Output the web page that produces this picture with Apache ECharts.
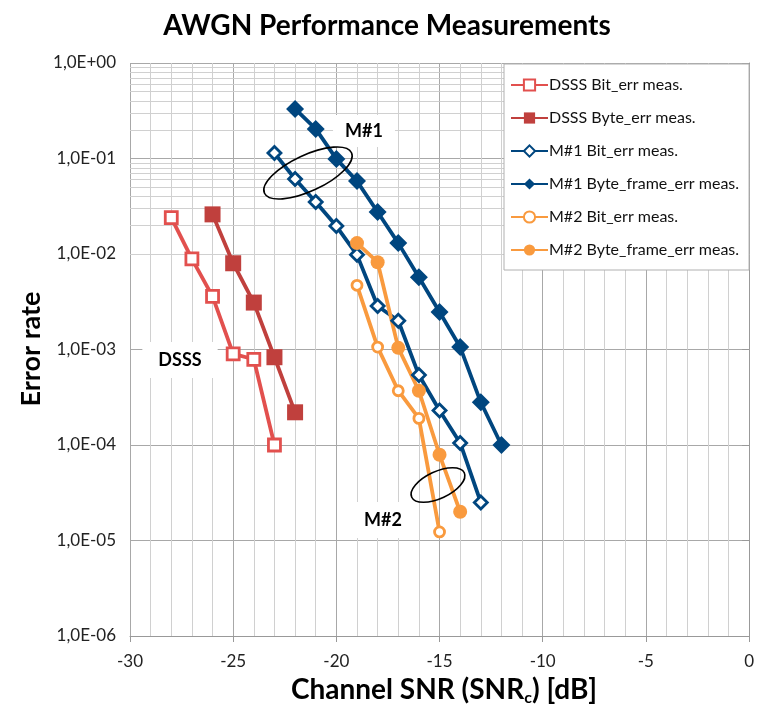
<!DOCTYPE html>
<html>
<head>
<meta charset="utf-8">
<script src="https://cdn.jsdelivr.net/npm/echarts@6/dist/echarts.min.js"></script>
<style>html,body{margin:0;padding:0;background:#fff}#c{width:757px;height:706px}</style>
</head>
<body>
<div id="c"></div>
<script>
// ---- data ----
const seriesNames = ['DSSS Bit_err meas.', 'DSSS Byte_err meas.', 'M#1 Bit_err meas.', 'M#1 Byte_frame_err meas.', 'M#2 Bit_err meas.', 'M#2 Byte_frame_err meas.'];
const snrDsssBit = [-28, -27, -26, -25, -24, -23];
const dsssBit = [2.4e-2, 8.9e-3, 3.6e-3, 9.0e-4, 7.9e-4, 1.0e-4];
const snrDsssByte = [-26, -25, -24, -23, -22];
const dsssByte = [2.6e-2, 8.0e-3, 3.1e-3, 8.3e-4, 2.2e-4];
const snrM1Bit = [-23, -22, -21, -20, -19, -18, -17, -16, -15, -14, -13];
const m1Bit = [0.114, 0.061, 0.035, 0.0196, 9.8e-3, 2.85e-3, 2.0e-3, 5.4e-4, 2.3e-4, 1.05e-4, 2.5e-5];
const snrM1Byte = [-22, -21, -20, -19, -18, -17, -16, -15, -14, -13, -12];
const m1Byte = [0.33, 0.204, 0.099, 0.058, 0.0275, 0.013, 5.7e-3, 2.47e-3, 1.06e-3, 2.8e-4, 1.0e-4];
const snrM2Bit = [-19, -18, -17, -16, -15];
const m2Bit = [4.7e-3, 1.06e-3, 3.7e-4, 1.9e-4, 1.23e-5];
const snrM2Byte = [-19, -18, -17, -16, -15, -14];
const m2Byte = [0.013, 8.2e-3, 1.04e-3, 3.7e-4, 7.9e-5, 2.0e-5];
const xTicks = [-30, -25, -20, -15, -10, -5, 0];
const yDecades = [1e-6, 1e-5, 1e-4, 1e-3, 1e-2, 1e-1, 1];
// minor log grid lines (2..9 x 10^k)
const minorGridValues = [];
for (let k = -6; k < 0; k++) for (let m = 2; m <= 9; m++) minorGridValues.push(m * Math.pow(10, k));

const FONT = 'Lato, "Open Sans", sans-serif';
const cRedL = '#E2504E', cRedD = '#C0403D', cBlue = '#00467F', cOrange = '#F99A3E';

function pairs(xs, ys) { return xs.map((x, i) => [x, ys[i]]); }
function mk(name, xs, ys, color, symbol, size, open) {
  return {
    name, type: 'line', data: pairs(xs, ys), symbol, symbolSize: size, z: 3,
    lineStyle: { color, width: 3.8 },
    itemStyle: open ? { color: '#fff', borderColor: color, borderWidth: 2.8 } : { color, borderColor: color, borderWidth: 0 },
    emphasis: { disabled: true }, animation: false
  };
}

const chart = echarts.init(document.getElementById('c'), null, { renderer: 'canvas' });
chart.setOption({
  animation: false,
  backgroundColor: '#fff',
  grid: { left: 130, right: 2, top: 63, bottom: 70, containLabel: false },
  xAxis: {
    type: 'value', min: -30, max: 0, interval: 5,
    axisLine: { show: true, lineStyle: { color: '#999', width: 1 } },
    axisTick: { show: true, length: 6, lineStyle: { color: '#999' } },
    axisLabel: { fontFamily: FONT, fontSize: 17, color: '#222', margin: 17 },
    splitLine: { show: true, lineStyle: { color: '#a8a8a8', width: 1 } },
    minorTick: { show: false, splitNumber: 5 },
    minorSplitLine: { show: true, lineStyle: { color: '#d0d0d0', width: 1 } }
  },
  yAxis: {
    type: 'log', logBase: 10, min: 1e-6, max: 1, splitNumber: 6,
    axisLine: { show: true, lineStyle: { color: '#999', width: 1 } },
    axisTick: { show: true, length: 7, lineStyle: { color: '#999' } },
    axisLabel: {
      fontFamily: FONT, fontSize: 17, color: '#222', margin: 14,
      formatter: v => { const e = Math.round(Math.log10(v)); const s = e < 0 ? '-' : '+'; const a = Math.abs(e); return '1,0E' + s + (a < 10 ? '0' : '') + a; }
    },
    splitLine: { show: true, lineStyle: { color: '#a8a8a8', width: 1 } }
  },
  legend: {
    data: seriesNames, orient: 'vertical', left: 504, top: 64,
    padding: [13, 10, 12, 6], itemGap: 17, itemWidth: 37, itemHeight: 14,
    backgroundColor: '#fff', borderColor: '#b0b0b0', borderWidth: 1,
    textStyle: { fontFamily: FONT, fontSize: 16, color: '#111', padding: [0, 0, 0, -4] },
    selectedMode: false
  },
  series: [
    mk(seriesNames[0], snrDsssBit, dsssBit, cRedL, 'rect', 12, true),
    mk(seriesNames[1], snrDsssByte, dsssByte, cRedD, 'rect', 16, false),
    mk(seriesNames[2], snrM1Bit, m1Bit, cBlue, 'diamond', 13, true),
    mk(seriesNames[3], snrM1Byte, m1Byte, cBlue, 'diamond', 18, false),
    mk(seriesNames[4], snrM2Bit, m2Bit, cOrange, 'circle', 10, true),
    mk(seriesNames[5], snrM2Byte, m2Byte, cOrange, 'circle', 14, false),
    {
      type: 'line', data: [], silent: true, z: 1,
      markLine: {
        silent: true, z: 1, animation: false, symbol: ['none', 'none'],
        label: { show: false },
        lineStyle: { color: '#d0d0d0', width: 1, type: 'solid' },
        emphasis: { disabled: true },
        data: minorGridValues.map(v => ({ yAxis: v }))
      }
    }
  ],
  graphic: [
    { type: 'text', x: 387, y: 26, z: 10, style: { text: 'AWGN Performance Measurements', font: 'bold 28px ' + FONT, fill: '#000', align: 'center', verticalAlign: 'middle' } },
    { type: 'text', x: 31, y: 349, rotation: Math.PI / 2, z: 10, style: { text: 'Error rate', font: 'bold 27px ' + FONT, fill: '#000', align: 'center', verticalAlign: 'middle' } },
    { type: 'text', x: 444, y: 690, z: 10, style: {
      text: '{a|Channel SNR (SNR}{b|c}{a|) [dB]}', align: 'center', verticalAlign: 'middle',
      rich: { a: { fontFamily: FONT, fontWeight: 'bold', fontSize: 28, color: '#000' },
              b: { fontFamily: FONT, fontWeight: 'bold', fontSize: 16, color: '#000', padding: [15, 0, 0, 0] } } } },
    { type: 'text', x: 364, y: 131, z: 2, style: { text: 'M#1', font: 'bold 18px ' + FONT, fill: '#000', align: 'center', verticalAlign: 'middle', backgroundColor: '#fff', padding: [7, 12] } },
    { type: 'text', x: 180, y: 360, z: 2, style: { text: 'DSSS', font: 'bold 18px ' + FONT, fill: '#000', align: 'center', verticalAlign: 'middle', backgroundColor: '#fff', padding: [9, 16] } },
    { type: 'text', x: 383, y: 520, z: 2, style: { text: 'M#2', font: 'bold 18px ' + FONT, fill: '#000', align: 'center', verticalAlign: 'middle', backgroundColor: '#fff', padding: [9, 16] } },
    { type: 'ellipse', x: 308, y: 173, rotation: 25 * Math.PI / 180, z: 20, shape: { cx: 0, cy: 0, rx: 48, ry: 18 }, style: { fill: null, stroke: '#000', lineWidth: 1.6 } },
    { type: 'ellipse', x: 438, y: 485, rotation: 25 * Math.PI / 180, z: 20, shape: { cx: 0, cy: 0, rx: 29, ry: 13.5 }, style: { fill: null, stroke: '#000', lineWidth: 1.6 } }
  ]
});
</script>
</body>
</html>
